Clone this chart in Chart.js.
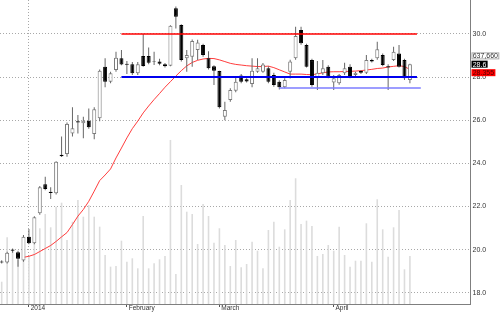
<!DOCTYPE html>
<html><head><meta charset="utf-8">
<script src="https://cdn.jsdelivr.net/npm/chart.js@4.4.1/dist/chart.umd.min.js"></script>
<style>html,body{margin:0;padding:0;background:#fff;overflow:hidden}#wrap{width:500px;height:312px}</style>
</head><body><div id="wrap"><canvas id="c" width="500" height="312"></canvas></div>
<script>
// ---- data ----
const opens = [19.45,19.40,20.00,19.88,19.49,20.60,20.29,21.68,23.03,22.68,
22.61,24.40,24.43,25.39,25.95,25.86,25.98,25.36,26.09,28.48,
27.79,28.33,28.87,28.62,28.60,28.18,28.98,28.98,28.73,28.72,
28.60,28.53,31.19,30.42,28.87,28.95,29.26,29.49,28.87,28.50,
28.28,26.16,26.94,27.37,28.08,27.90,27.68,28.25,28.25,28.41,
28.10,27.79,27.53,28.25,28.87,30.19,29.49,28.79,27.95,28.18,
28.48,27.75,27.71,28.18,28.48,28.10,28.28,28.20,28.79,28.87,
29.03,28.50,28.79,29.10,28.79,27.87];
const highs = [19.50,19.90,20.05,19.95,20.68,20.96,21.55,22.95,23.38,22.89,
24.10,25.24,25.90,26.60,26.24,26.16,26.55,26.60,28.35,28.87,
28.25,29.18,29.26,28.75,28.70,28.70,30.00,29.37,29.18,28.85,
28.65,30.40,31.27,30.45,29.26,29.75,29.73,29.55,29.20,28.55,
28.30,26.86,27.48,28.00,28.15,27.95,28.87,28.87,28.65,28.50,
28.20,27.85,27.95,28.80,30.34,30.34,29.55,28.85,28.75,28.79,
28.55,28.10,28.15,28.67,28.60,28.25,28.32,29.03,28.85,29.64,
29.10,28.60,29.41,29.49,28.85,28.62];
const lows = [19.35,19.35,19.85,19.20,19.44,20.25,20.25,21.62,22.75,22.35,
22.55,24.30,24.31,25.24,25.39,25.16,25.60,25.12,25.95,27.53,
27.71,28.25,28.55,28.14,28.10,28.10,28.48,28.60,28.56,28.55,
28.45,28.50,30.26,28.72,28.25,28.48,28.79,28.95,28.35,27.63,
26.55,26.00,26.86,27.30,27.72,27.75,27.53,28.20,28.20,27.72,
27.55,27.43,27.48,27.94,28.80,29.50,28.45,27.55,27.40,28.10,
27.95,27.40,27.65,28.10,27.95,28.05,28.15,28.15,28.68,28.80,
28.50,27.40,28.75,28.45,27.87,27.71];
const closes = [19.40,19.85,19.95,19.57,20.60,20.29,21.50,22.89,22.81,22.63,
24.08,24.33,25.83,25.63,25.90,25.98,25.67,26.51,28.30,27.79,
28.18,28.90,28.59,28.57,28.18,28.60,28.52,28.67,28.70,28.62,
28.50,30.38,30.80,28.79,29.03,29.68,29.60,29.03,28.41,28.30,
26.60,26.47,27.40,27.79,27.79,27.80,28.30,28.41,28.59,27.79,
27.63,27.53,27.87,28.72,29.91,29.57,28.48,27.63,28.20,28.41,
28.02,27.95,28.10,28.41,27.99,28.20,28.20,28.79,28.72,29.29,
28.56,28.45,29.18,28.48,27.95,28.60];
const volumes = [296000,886000,717000,585000,727000,638000,850000,1006000,1196000,1019000,
1293000,1346000,850000,1093000,1382000,1160000,1315000,1160000,1027000,651000,
496000,505000,841000,562000,607000,474000,1169000,474000,541000,594000,
638000,2179000,399000,1581000,1226000,1196000,797000,1328000,1169000,814000,
1006000,784000,505000,850000,488000,531000,828000,708000,474000,983000,
1093000,761000,992000,1382000,1670000,1063000,1107000,1036000,638000,664000,
784000,708000,1027000,651000,496000,575000,575000,1072000,562000,1391000,
992000,628000,1019000,1249000,461000,637660];
const maValues = [null,null,null,null,19.64,19.69,19.77,19.91,20.05,20.19,
20.38,20.59,20.79,21.16,21.55,21.86,22.24,22.71,23.20,23.46,
23.74,24.25,24.71,25.18,25.61,25.96,26.34,26.66,26.96,27.24,
27.53,27.79,28.05,28.30,28.52,28.68,28.78,28.84,28.87,28.86,
28.80,28.72,28.64,28.59,28.56,28.53,28.51,28.49,28.49,28.51,
28.44,28.34,28.24,28.14,28.14,28.14,28.12,28.11,28.15,28.20,
28.24,28.25,28.25,28.26,28.27,28.28,28.30,28.33,28.36,28.40,
28.42,28.47,28.50,28.53,28.49,28.355];
const monthTickIndex = [5, 23, 40, 61];
const monthTickLabels = ['2014', 'February', 'March', 'April'];
const priceTicks = [18, 20, 22, 24, 26, 28, 30];
const levelValues = [30.0, 28.0, 27.5];
const levelFrom = [22, 22, 51];
const levelTo = [76.3, 76.3, 77];

// ---- build ----
const FONT = '"Liberation Sans", Arial, sans-serif';
const idx = opens.map((_, i) => i);
const isUp = i => closes[i] >= opens[i];
const bodyData = idx.map(i => ({x: i, y: [opens[i], closes[i]]}));
const wickData = idx.map(i => ({x: i, y: [lows[i], highs[i]]}));
const volData = idx.map(i => ({x: i, y: volumes[i]}));
const maData = idx.filter(i => maValues[i] !== null).map(i => ({x: i, y: maValues[i]}));
const levelColors = ['#ff0000', '#0000ee', '#7d7dff'];
const levelWidths = [1.5, 2, 1.5];
const levelSets = levelValues.map((v, k) => ({
  type: 'line', yAxisID: 'y', order: 0,
  data: [{x: levelFrom[k], y: v}, {x: levelTo[k], y: v}],
  borderColor: levelColors[k], borderWidth: levelWidths[k], pointRadius: 0, borderCapStyle: 'butt'
}));

const tagPlugin = {
  id: 'tags',
  afterDraw(chart) {
    const ctx = chart.ctx, ys = chart.scales.y, last = closes.length - 1;
    const left = chart.chartArea.right + 1.5;
    ctx.save();
    ctx.font = '7px ' + FONT;
    ctx.textBaseline = 'middle';
    ctx.textAlign = 'left';
    const tag = (text, cy, bg, fg, stroke) => {
      const w = ctx.measureText(text).width + 2.5, h = 7;
      ctx.fillStyle = bg;
      ctx.fillRect(left, cy - h / 2, w, h);
      if (stroke) { ctx.strokeStyle = stroke; ctx.lineWidth = 1; ctx.strokeRect(left + 0.5, cy - h / 2 + 0.5, w - 1, h - 1); }
      ctx.fillStyle = fg;
      ctx.fillText(text, left + 1.2, cy + 0.5);
    };
    const cy = ys.getPixelForValue(closes[last]);
    tag(volumes[last].toLocaleString('en-US'), cy - 8.3, '#ffffff', '#333', '#aaa');
    tag(String(closes[last]), cy, '#000000', '#ffffff');
    tag(maValues[last].toFixed(3), cy + 8.5, '#ff0000', '#550000');
    ctx.restore();
  }
};

new Chart(document.getElementById('c'), {
  data: {
    datasets: [
      {type: 'bar', yAxisID: 'yv', order: 10, data: volData, backgroundColor: '#dcdcdc',
        barThickness: 1.6, grouped: false, inflateAmount: 0},
      {type: 'line', yAxisID: 'y', order: 5, data: maData, borderColor: 'rgba(255,40,40,0.9)',
        borderWidth: 1, pointRadius: 0, tension: 0},
      {type: 'bar', yAxisID: 'y', order: 3, data: wickData, backgroundColor: '#666',
        barThickness: 1, grouped: false, inflateAmount: 0},
      {type: 'bar', yAxisID: 'y', order: 2, data: bodyData, grouped: false, inflateAmount: 0,
        barThickness: 4, borderWidth: 1, borderSkipped: false,
        backgroundColor: c => isUp(c.dataIndex) ? '#ffffff' : '#000000',
        borderColor: c => isUp(c.dataIndex) ? '#7a7a7a' : '#000000'},
      ...levelSets
    ]
  },
  options: {
    responsive: false, animation: false, devicePixelRatio: 1,
    layout: {padding: 0},
    plugins: {legend: {display: false}, tooltip: {enabled: false}},
    scales: {
      x: {
        type: 'linear', position: 'bottom', min: -0.3123, max: 86.04, offset: false,
        grid: {offset: false, color: c => (c.tick && c.tick.value === monthTickIndex[0]) ? '#a8a8a8' : 'rgba(0,0,0,0)',
          drawTicks: true, tickLength: 3, tickColor: '#555', tickWidth: 1, tickBorderDash: []},
        border: {display: true, color: '#7f7f7f', width: 1, dash: [1, 2]},
        ticks: {font: {family: FONT, size: 6.5, lineHeight: 1}, color: '#333', padding: -2,
          align: 'start', maxRotation: 0, autoSkip: false,
          callback: (v, i) => ' ' + monthTickLabels[i]},
        afterBuildTicks: s => { s.ticks = monthTickIndex.map(v => ({value: v})); },
        afterFit: s => { s.height = 8; s.paddingLeft = 0; s.paddingRight = 0; }
      },
      y: {
        type: 'linear', position: 'right', min: 17.476, max: 31.577,
        grid: {color: '#a8a8a8', drawTicks: false},
        border: {display: true, color: '#7f7f7f', width: 1, dash: [1, 2]},
        ticks: {font: {family: FONT, size: 7, lineHeight: 1}, color: '#333', padding: 2.5,
          callback: v => Number(v).toFixed(1)},
        afterBuildTicks: s => { s.ticks = priceTicks.map(v => ({value: v})); },
        afterFit: s => { s.width = 30; s.paddingTop = 0; s.paddingBottom = 0; }
      },
      yv: {type: 'linear', display: false, min: 0, max: 4038000}
    }
  },
  plugins: [tagPlugin]
});
</script></body></html>
